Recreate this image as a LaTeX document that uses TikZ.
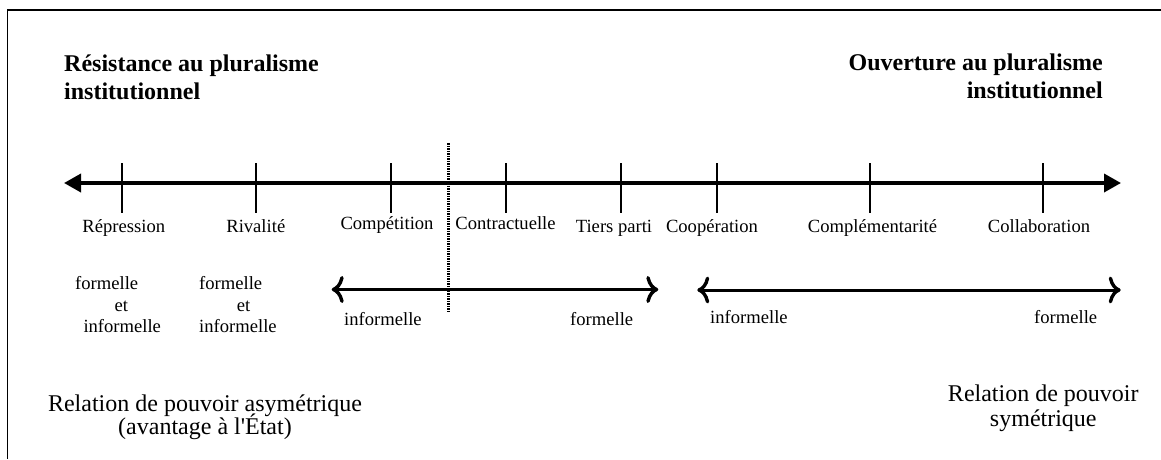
\documentclass[tikz,border=0pt]{standalone}
\usepackage{fontspec}
\setmainfont{Liberation Serif}[Ligatures=TeXOff]
\usetikzlibrary{arrows.meta}
\begin{document}
\begin{tikzpicture}[x=1pt,y=-1pt,
  lbl/.style={inner sep=0pt, anchor=base, font=\fontsize{18.6}{22}\selectfont},
  lblw/.style={inner sep=0pt, anchor=base west, font=\fontsize{18.6}{22}\selectfont},
  ttlw/.style={inner sep=0pt, anchor=base west, font=\fontsize{24}{27}\selectfont\bfseries},
  ttle/.style={inner sep=0pt, anchor=base east, font=\fontsize{24}{27}\selectfont\bfseries},
  big/.style={inner sep=0pt, anchor=base, font=\fontsize{24}{25}\selectfont},
  tickline/.style={line width=2pt},
  axisline/.style={line width=3.6pt, {Triangle[length=17pt,width=18pt]}-{Triangle[length=17pt,width=18pt]}},
  rangeline/.style={line width=3pt, {Computer Modern Rightarrow[length=12pt,width=27pt,line width=3.4pt]}-{Computer Modern Rightarrow[length=12pt,width=27pt,line width=3.4pt]}},
  sepline/.style={line width=2.5pt, dash pattern=on 1.5pt off 1pt},
  frameline/.style={line width=1.5pt}
]
\useasboundingbox (0,0) rectangle (1161,459);

% frame (top and left edges)
\coordinate (ftl) at (7.5,10);
\coordinate (ftr) at (1161,10);
\coordinate (fbl) at (7.5,459);
\draw[frameline] (ftr) -- (ftl) -- (fbl);

% titles
\node[ttlw] (tl1) at (64,71.7) {Résistance au pluralisme};
\node[ttlw] (tl2) at (64,99) {institutionnel};
\node[ttle] (tr1) at (1103,70.7) {Ouverture au pluralisme};
\node[ttle] (tr2) at (1103,98.3) {institutionnel};

% main axis
\coordinate (axL) at (64,183);
\coordinate (axR) at (1121,183);
\draw[axisline] (axL) -- (axR);

% ticks
\foreach \n/\x in {t1/121.7, t2/256, t3/391, t4/505.7, t5/621, t6/716.7, t7/870.3, t8/1043.3}{
  \coordinate (\n a) at (\x,163);
  \coordinate (\n b) at (\x,213);
  \draw[tickline] (\n a) -- (\n b);
}

% tick labels
\node[lbl] (l1) at (123.8,232) {Répression};
\node[lbl] (l2) at (255.8,232) {Rivalité};
\node[lbl] (l3) at (387,229.8) {Compétition};
\node[lbl] (l4) at (505.5,229.8) {Contractuelle};
\node[lbl] (l5) at (614,232) {Tiers parti};
\node[lbl] (l6) at (712,232) {Coopération};
\node[lbl] (l7) at (872.5,232) {Complémentarité};
\node[lbl] (l8) at (1039,232) {Collaboration};

% dotted separator
\coordinate (sepT) at (448.3,143);
\coordinate (sepB) at (448.3,313);
\draw[sepline] (sepT) -- (sepB);

% formelle et informelle blocks
\node[lblw] (a1) at (75,289.3) {formelle};
\node[lblw] (a2) at (114.3,311.7) {et};
\node[lblw] (a3) at (83.3,332.7) {informelle};
\node[lblw] (b1) at (199,289.3) {formelle};
\node[lblw] (b2) at (236.7,311.7) {et};
\node[lblw] (b3) at (199,332.7) {informelle};

% range arrows
\coordinate (r1L) at (331.7,289.5);
\coordinate (r1R) at (658.3,289.5);
\draw[rangeline] (r1L) -- (r1R);
\coordinate (r2L) at (697.3,290);
\coordinate (r2R) at (1120.7,290);
\draw[rangeline] (r2L) -- (r2R);

\node[lblw] (c1) at (344,325) {informelle};
\node[lblw] (c2) at (570,325) {formelle};
\node[lblw] (d1) at (710,323.3) {informelle};
\node[lblw] (d2) at (1034,323.3) {formelle};

% bottom texts
\node[big] (p1) at (205,411) {Relation de pouvoir asymétrique};
\node[big] (p2) at (205,434.5) {(avantage à l'État)};
\node[big] (q1) at (1043.3,401) {Relation de pouvoir};
\node[big] (q2) at (1043.3,426.5) {symétrique};
\end{tikzpicture}
\end{document}
